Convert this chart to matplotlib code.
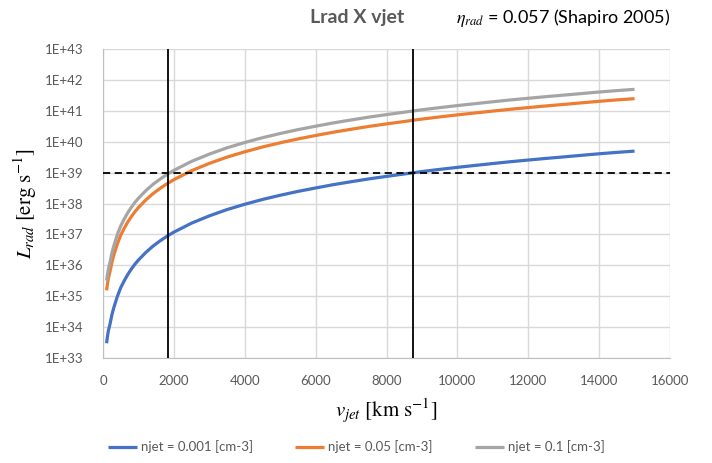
import numpy as np
import matplotlib.pyplot as plt
from matplotlib.ticker import FuncFormatter, FixedLocator

plt.rcParams['font.family'] = ['Lato', 'DejaVu Sans']
plt.rcParams['mathtext.fontset'] = 'stix'

# velocity of the jet [km/s]
v_jet = [100, 125, 150, 175, 200, 250, 300, 400, 500, 600, 700, 800, 900,
         1000, 1200, 1400, 1600, 1800, 2000, 2500, 3000, 3500, 4000, 4500,
         5000, 5500, 6000, 6500, 7000, 7500, 8000, 8500, 9000, 9500, 10000,
         10500, 11000, 11500, 12000, 12500, 13000, 13500, 14000, 14500, 15000]

# L_rad [erg/s]
L_n0001 = [3.0e33, 5.0e33, 7.5e33, 1.0e34, 1.3e34, 2.5e34, 4.1e34, 9.6e34,
           1.9e35, 3.2e35, 5.1e35, 7.6e35, 1.09e36, 1.49e36, 2.57e36, 4.1e36,
           6.1e36, 8.7e36, 1.19e37, 2.33e37, 4.0e37, 6.4e37, 9.5e37, 1.36e38,
           1.86e38, 2.48e38, 3.2e38, 4.1e38, 5.1e38, 6.3e38, 7.6e38, 9.1e38,
           1.09e39, 1.28e39, 1.49e39, 1.72e39, 1.98e39, 2.27e39, 2.57e39,
           2.9e39, 3.25e39, 3.65e39, 4.1e39, 4.55e39, 5.0e39]
L_n005 = [1.55e35, 2.5e35, 3.75e35, 5.0e35, 6.5e35, 1.25e36, 2.05e36, 4.8e36,
          9.5e36, 1.6e37, 2.55e37, 3.8e37, 5.45e37, 7.45e37, 1.285e38, 2.05e38,
          3.05e38, 4.35e38, 5.95e38, 1.165e39, 2.0e39, 3.2e39, 4.75e39, 6.8e39,
          9.3e39, 1.24e40, 1.6e40, 2.05e40, 2.55e40, 3.15e40, 3.8e40, 4.55e40,
          5.45e40, 6.4e40, 7.45e40, 8.6e40, 9.9e40, 1.135e41, 1.285e41,
          1.45e41, 1.625e41, 1.825e41, 2.05e41, 2.275e41, 2.5e41]
L_n01 = [3.2e35, 5.0e35, 7.5e35, 1.0e36, 1.3e36, 2.5e36, 4.1e36, 9.6e36,
         1.9e37, 3.2e37, 5.1e37, 7.6e37, 1.09e38, 1.49e38, 2.57e38, 4.1e38,
         6.1e38, 8.7e38, 1.19e39, 2.33e39, 4.0e39, 6.4e39, 9.5e39, 1.36e40,
         1.86e40, 2.48e40, 3.2e40, 4.1e40, 5.1e40, 6.3e40, 7.6e40, 9.1e40,
         1.09e41, 1.28e41, 1.49e41, 1.72e41, 1.98e41, 2.27e41, 2.57e41,
         2.9e41, 3.25e41, 3.65e41, 4.1e41, 4.55e41, 5.0e41]

labels = ["njet = 0.001 [cm-3]", "njet = 0.05 [cm-3]", "njet = 0.1 [cm-3]"]
colors = ["#4472C4", "#ED7D31", "#A5A5A5"]

L_limit = 1e39            # horizontal reference
v_marks = [1830, 8760]    # where curves reach L_limit

fig = plt.figure(figsize=(7.12, 4.63), dpi=100)
ax = fig.add_axes([0.1447, 0.2268, 0.7963, 0.667])

for L, lab, c in zip([L_n0001, L_n005, L_n01], labels, colors):
    ax.plot(v_jet, L, color=c, lw=2.3, label=lab, solid_capstyle='butt',
            solid_joinstyle='round')

ax.axhline(L_limit, color='black', lw=1.3, ls=(0, (4, 2.5)), zorder=3)
for v in v_marks:
    ax.axvline(v, color='black', lw=1.3, zorder=3)

ax.set_yscale('log')
ax.set_ylim(1e33, 1e43)
ax.set_xlim(0, 16000)
ax.yaxis.set_major_locator(FixedLocator([10.0**k for k in range(33, 44)]))
ax.yaxis.set_minor_locator(FixedLocator([]))
ax.yaxis.set_major_formatter(FuncFormatter(lambda y, p: f"1E+{int(round(np.log10(y)))}"))
ax.set_xticks(np.arange(0, 16001, 2000))

ax.grid(True, color='#D9D9D9', lw=1)
ax.set_axisbelow(True)
for s in ['top', 'right']:
    ax.spines[s].set_visible(False)
for s in ['left', 'bottom']:
    ax.spines[s].set_color('#BFBFBF')
ax.tick_params(length=0, colors='#595959', labelsize=9.5)
ax.tick_params(axis='y', pad=14)
ax.tick_params(axis='x', pad=12)

ax.set_ylabel(r'$L_{rad}\ [\mathrm{erg\ s^{-1}}]$', fontsize=15, labelpad=4)
ax.set_xlabel(r'$v_{jet}\ [\mathrm{km\ s^{-1}}]$', fontsize=15, labelpad=7)

fig.text(0.502, 0.962, 'Lrad X vjet', ha='center', va='center',
         fontsize=14, fontweight='bold', color='#595959')
fig.text(0.640, 0.962, r'$\eta_{rad}$ = 0.057 (Shapiro 2005)', ha='left',
         va='center', fontsize=13, color='black')

fig.legend(loc='center', bbox_to_anchor=(0.5, 0.035), ncol=3, frameon=False,
           fontsize=9.5, handlelength=2.2, handletextpad=0.3,
           columnspacing=3.2, labelcolor='#595959')

fig.savefig('out.png', dpi=100)
